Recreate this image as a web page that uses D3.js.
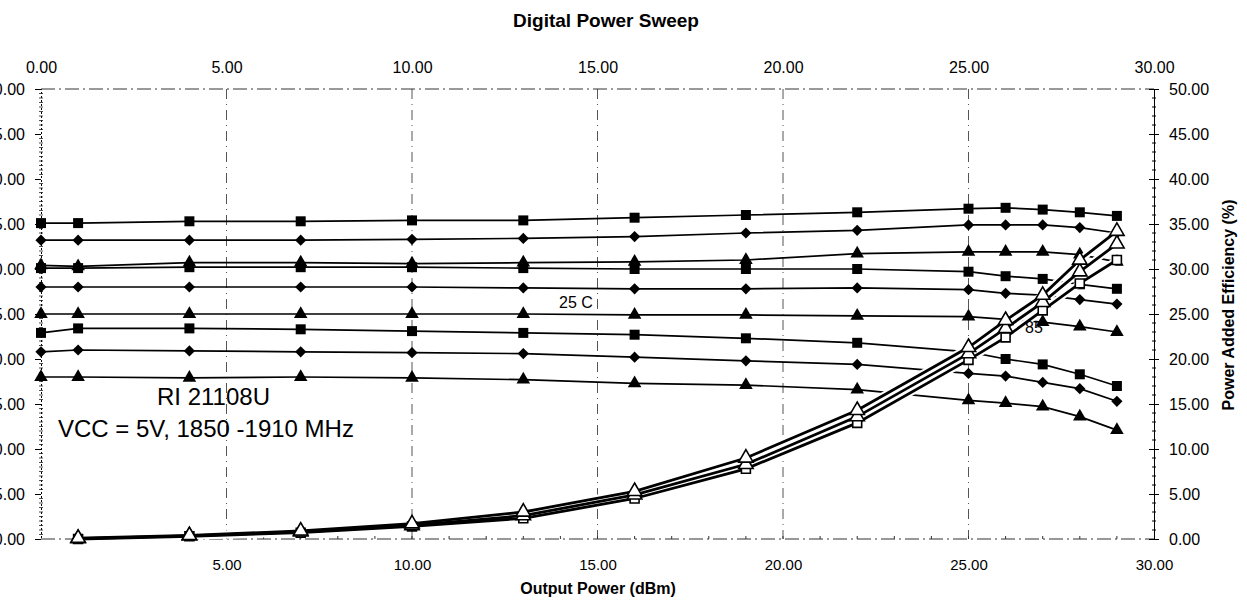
<!DOCTYPE html>
<html>
<head>
<meta charset="utf-8">
<script src="https://cdn.jsdelivr.net/npm/d3@7"></script>
<style>
  body { margin: 0; background: #fff; }
  svg { display: block; font-family: "Liberation Sans", Arial, sans-serif; }
</style>
</head>
<body>
<div id="chart"></div>
<script>
// output power points (dBm)
const powerOut = [0, 1, 4, 7, 10, 13, 16, 19, 22, 25, 26, 27, 28, 29];
const paePower = [1, 4, 7, 10, 13, 16, 19, 22, 25, 26, 27, 28, 29];

// gain curves, three groups of three
const gainColdSq  = [35.1, 35.1, 35.3, 35.3, 35.4, 35.4, 35.7, 36.0, 36.3, 36.7, 36.8, 36.6, 36.3, 35.9];
const gainColdDi  = [33.2, 33.2, 33.2, 33.2, 33.3, 33.4, 33.6, 34.0, 34.3, 34.9, 34.9, 34.9, 34.6, 34.0];
const gainColdTr  = [30.4, 30.3, 30.7, 30.7, 30.6, 30.7, 30.8, 31.0, 31.7, 31.9, 31.9, 31.9, 31.6, 30.8];
const gainRoomSq  = [30.1, 30.1, 30.2, 30.2, 30.2, 30.1, 30.0, 30.0, 30.0, 29.7, 29.2, 28.9, 28.3, 27.8];
const gainRoomDi  = [28.0, 28.0, 28.0, 28.0, 28.0, 27.9, 27.8, 27.8, 27.9, 27.7, 27.3, 27.1, 26.6, 26.1];
const gainRoomTr  = [25.0, 25.0, 25.0, 25.0, 25.0, 25.0, 24.9, 24.9, 24.8, 24.7, 24.4, 24.1, 23.6, 23.0];
const gainHotSq   = [22.9, 23.4, 23.4, 23.3, 23.1, 22.9, 22.7, 22.3, 21.8, 20.8, 20.0, 19.4, 18.3, 17.0];
const gainHotDi   = [20.8, 21.0, 20.9, 20.8, 20.7, 20.6, 20.2, 19.8, 19.4, 18.4, 18.1, 17.4, 16.7, 15.3];
const gainHotTr   = [18.0, 18.0, 17.9, 18.0, 17.9, 17.7, 17.3, 17.1, 16.6, 15.4, 15.1, 14.7, 13.6, 12.1];

// power added efficiency (%)
const paeHigh = [0.1, 0.4, 0.9, 1.7, 3.0, 5.3, 9.0, 14.3, 21.3, 24.3, 27.1, 31.0, 34.2];
const paeMid  = [0.05, 0.35, 0.8, 1.5, 2.6, 4.9, 8.3, 13.6, 20.6, 23.4, 26.3, 29.7, 32.8];
const paeLow  = [0.0, 0.3, 0.7, 1.4, 2.3, 4.5, 7.8, 12.9, 19.9, 22.4, 25.4, 28.4, 31.0];

const xTicks = [0, 5, 10, 15, 20, 25, 30];
const bottomTicks = [5, 10, 15, 20, 25, 30];
const yTicks = [0, 5, 10, 15, 20, 25, 30, 35, 40, 45, 50];

const width = 1247;
const height = 604;
const plotLeft = 41, plotRight = 1154, plotTop = 89, plotBottom = 539;

const svg = d3.select('#chart')
    .append('svg')
    .attr('width', width)
    .attr('height', height);

const x = d3.scaleLinear().domain([0, 30]).range([plotLeft, plotRight]);
const yLeft = d3.scaleLinear().domain([0, 50]).range([plotBottom, plotTop]);
const yRight = d3.scaleLinear().domain([0, 50]).range([plotBottom, plotTop]);
const fmt = d3.format('.2f');

// title
svg.append('text')
    .attr('x', 606).attr('y', 27)
    .attr('text-anchor', 'middle')
    .attr('font-size', 19).attr('font-weight', 'bold')
    .text('Digital Power Sweep');

// vertical grid
svg.append('g')
    .selectAll('line')
    .data([5, 10, 15, 20, 25])
    .enter().append('line')
    .attr('x1', d => x(d)).attr('x2', d => x(d))
    .attr('y1', plotTop).attr('y2', plotBottom)
    .attr('stroke', '#555').attr('stroke-width', 1)
    .attr('stroke-dasharray', '10,5,1,5');

// top / bottom frame lines (dash-dot)
[plotTop, plotBottom].forEach(yy => {
    svg.append('line')
        .attr('x1', plotLeft).attr('x2', plotRight)
        .attr('y1', yy).attr('y2', yy)
        .attr('stroke', '#333').attr('stroke-width', 1)
        .attr('stroke-dasharray', '14,4,2,4');
});

// top axis
const topAxis = svg.append('g')
    .attr('transform', `translate(0,${plotTop})`)
    .call(d3.axisTop(x).tickValues(xTicks).tickFormat(fmt).tickSize(0).tickPadding(16));
topAxis.select('.domain').remove();
topAxis.selectAll('text').attr('font-size', 16).attr('font-family', 'Liberation Sans, Arial, sans-serif').attr('fill', '#000');

// bottom axis
const bottomAxis = svg.append('g')
    .attr('transform', `translate(0,${plotBottom})`)
    .call(d3.axisBottom(x).tickValues(bottomTicks).tickFormat(fmt).tickSize(0).tickPadding(20));
bottomAxis.select('.domain').remove();
bottomAxis.selectAll('text').attr('font-size', 15).attr('font-family', 'Liberation Sans, Arial, sans-serif').attr('fill', '#000');

// bottom minor ticks
svg.append('g')
    .selectAll('line')
    .data(d3.range(1, 30))
    .enter().append('line')
    .attr('x1', d => x(d)).attr('x2', d => x(d))
    .attr('y1', plotBottom).attr('y2', plotBottom - 3)
    .attr('stroke', '#333');

// right axis
const rightAxis = svg.append('g')
    .attr('transform', `translate(${plotRight},0)`)
    .call(d3.axisRight(yRight).tickValues(yTicks).tickFormat(fmt).tickSize(5).tickPadding(10));
rightAxis.select('.domain').attr('stroke', '#000');
rightAxis.selectAll('.tick line').attr('x1', -5);
rightAxis.selectAll('text').attr('font-size', 16).attr('font-family', 'Liberation Sans, Arial, sans-serif').attr('fill', '#000');
svg.append('g')
    .selectAll('line')
    .data(d3.range(0, 50, 1).filter(d => d % 5 !== 0))
    .enter().append('line')
    .attr('x1', plotRight - 2).attr('x2', plotRight + 2)
    .attr('y1', d => yRight(d)).attr('y2', d => yRight(d))
    .attr('stroke', '#000');

// left axis (labels run off the page edge, as in the scan)
const leftAxis = svg.append('g')
    .attr('transform', `translate(${plotLeft},0)`)
    .call(d3.axisLeft(yLeft).tickValues(yTicks).tickFormat(fmt).tickSize(6).tickPadding(10));
leftAxis.select('.domain').attr('stroke', '#000').attr('stroke-dasharray', '2,2');
leftAxis.selectAll('text').attr('font-size', 16).attr('font-family', 'Liberation Sans, Arial, sans-serif').attr('fill', '#000');
svg.append('g')
    .selectAll('line')
    .data(d3.range(0, 50, 0.5).filter(d => d % 5 !== 0))
    .enter().append('line')
    .attr('x1', plotLeft - 2).attr('x2', plotLeft + 2)
    .attr('y1', d => yLeft(d)).attr('y2', d => yLeft(d))
    .attr('stroke', '#222').attr('stroke-width', 0.8);

// axis titles
svg.append('text')
    .attr('x', 598).attr('y', 594)
    .attr('text-anchor', 'middle')
    .attr('font-size', 16).attr('font-weight', 'bold')
    .text('Output Power (dBm)');

svg.append('text')
    .attr('transform', 'translate(1234,305) rotate(-90)')
    .attr('text-anchor', 'middle')
    .attr('font-size', 16).attr('font-weight', 'bold')
    .text('Power Added Efficiency (%)');

// gain series
const gainSeries = [
    { values: gainColdSq, shape: d3.symbolSquare, size: 100 },
    { values: gainColdDi, shape: d3.symbolDiamond2, size: 80 },
    { values: gainColdTr, shape: d3.symbolTriangle, size: 80 },
    { values: gainRoomSq, shape: d3.symbolSquare, size: 100 },
    { values: gainRoomDi, shape: d3.symbolDiamond2, size: 80 },
    { values: gainRoomTr, shape: d3.symbolTriangle, size: 80 },
    { values: gainHotSq, shape: d3.symbolSquare, size: 100 },
    { values: gainHotDi, shape: d3.symbolDiamond2, size: 80 },
    { values: gainHotTr, shape: d3.symbolTriangle, size: 80 }
];

const gainLine = d3.line()
    .x((d, i) => x(powerOut[i]))
    .y(d => yLeft(d));

gainSeries.forEach(s => {
    svg.append('path')
        .datum(s.values)
        .attr('d', gainLine)
        .attr('fill', 'none')
        .attr('stroke', '#000')
        .attr('stroke-width', 1.7);
    svg.append('g')
        .selectAll('path')
        .data(s.values)
        .enter().append('path')
        .attr('transform', (d, i) => `translate(${x(powerOut[i])},${yLeft(d)})`)
        .attr('d', d3.symbol().type(s.shape).size(s.size))
        .attr('fill', '#000');
});

// efficiency series, drawn with a white halo
const paeSeries = [
    { values: paeLow, shape: d3.symbolSquare, size: 80 },
    { values: paeMid, shape: d3.symbolTriangle, size: 90 },
    { values: paeHigh, shape: d3.symbolTriangle, size: 90 }
];

const paeLine = d3.line()
    .x((d, i) => x(paePower[i]))
    .y(d => yRight(d));

paeSeries.forEach(s => {
    svg.append('path')
        .datum(s.values)
        .attr('d', paeLine)
        .attr('fill', 'none')
        .attr('stroke', '#fff')
        .attr('stroke-width', 7);
});
paeSeries.forEach(s => {
    svg.append('path')
        .datum(s.values)
        .attr('d', paeLine)
        .attr('fill', 'none')
        .attr('stroke', '#000')
        .attr('stroke-width', 2.8);
});
paeSeries.forEach(s => {
    svg.append('g')
        .selectAll('path')
        .data(s.values)
        .enter().append('path')
        .attr('transform', (d, i) => `translate(${x(paePower[i])},${yRight(d)})`)
        .attr('d', d3.symbol().type(s.shape).size(s.size))
        .attr('fill', '#fff')
        .attr('stroke', '#000')
        .attr('stroke-width', 1.6);
});

// annotations
svg.append('text').attr('x', 559).attr('y', 308).attr('font-size', 16).text('25 C');
svg.append('text').attr('x', 1025).attr('y', 333).attr('font-size', 16).text('85');
svg.append('text').attr('x', 157).attr('y', 405).attr('font-size', 24).text('RI 21108U');
svg.append('text').attr('x', 58).attr('y', 437).attr('font-size', 24).text('VCC = 5V, 1850 -1910 MHz');
</script>
</body>
</html>
